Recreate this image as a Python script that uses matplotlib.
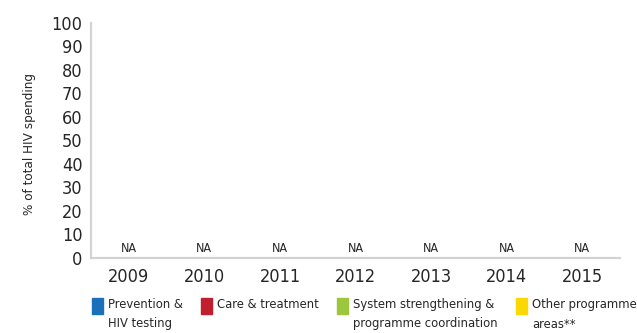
import numpy as np
import matplotlib.pyplot as plt
from matplotlib.patches import Rectangle

plt.rcParams['font.family'] = ['DejaVu Sans']
plt.rcParams['font.stretch'] = 'condensed'

years = ['2009', '2010', '2011', '2012', '2013', '2014', '2015']
# spending shares by programme area (no data reported -> NA)
prevencion = [np.nan] * 7
atencion = [np.nan] * 7
sistema = [np.nan] * 7
otros = [np.nan] * 7

series = [
    ('Prevention &\nHIV testing', prevencion, '#1b71b9'),
    ('Care & treatment', atencion, '#c11f2f'),
    ('System strengthening &\nprogramme coordination', sistema, '#9cc63b'),
    ('Other programme\nareas**', otros, '#fdd800'),
]

texto = '#262626'
gris = '#d3d3d3'

fig = plt.figure(figsize=(6.37, 3.33), dpi=100)
ax = fig.add_axes([0.1429, 0.2252, 0.8304, 0.7066])

x = np.arange(len(years))
base = np.zeros(len(years))
for nombre, vals, col in series:
    v = np.array(vals, dtype=float)
    ax.bar(x, v, bottom=base, width=0.5, color=col)
    base = base + np.nan_to_num(v)

# label categories without values
for i in range(len(years)):
    if all(np.isnan(s[1][i]) for s in series):
        ax.annotate('NA', (x[i], 0), xytext=(0, 2), textcoords='offset points',
                    ha='center', va='bottom', fontsize=9, color=texto)

ax.set_xlim(-0.5, len(years) - 0.5)
ax.set_ylim(0, 100)
ax.set_yticks(range(0, 101, 10))
ax.set_xticks(x)
ax.set_xticklabels(years)
ax.tick_params(axis='y', length=0, pad=6, labelsize=13, labelcolor=texto)
ax.tick_params(axis='x', length=0, pad=7, labelsize=13, labelcolor=texto)
for s in ['top', 'right']:
    ax.spines[s].set_visible(False)
for s in ['left', 'bottom']:
    ax.spines[s].set_color(gris)
    ax.spines[s].set_linewidth(1.6)

fig.text(30 / 637, 0.567, '% of total HIV spending', rotation=90,
         ha='center', va='center', fontsize=9.6, color=texto)

# legend along the bottom
W, H = 637, 333
pos_x = [92, 201, 337, 516]
for (nombre, vals, col), px in zip(series, pos_x):
    fig.patches.append(Rectangle((px / W, 1 - 314 / H), 11 / W, 16 / H,
                                 transform=fig.transFigure, color=col))
    fig.text((px + 16) / W, 1 - 298 / H, nombre, ha='left', va='top',
             fontsize=9.3, color=texto, linespacing=1.65)

fig.savefig('out.png', dpi=100)
